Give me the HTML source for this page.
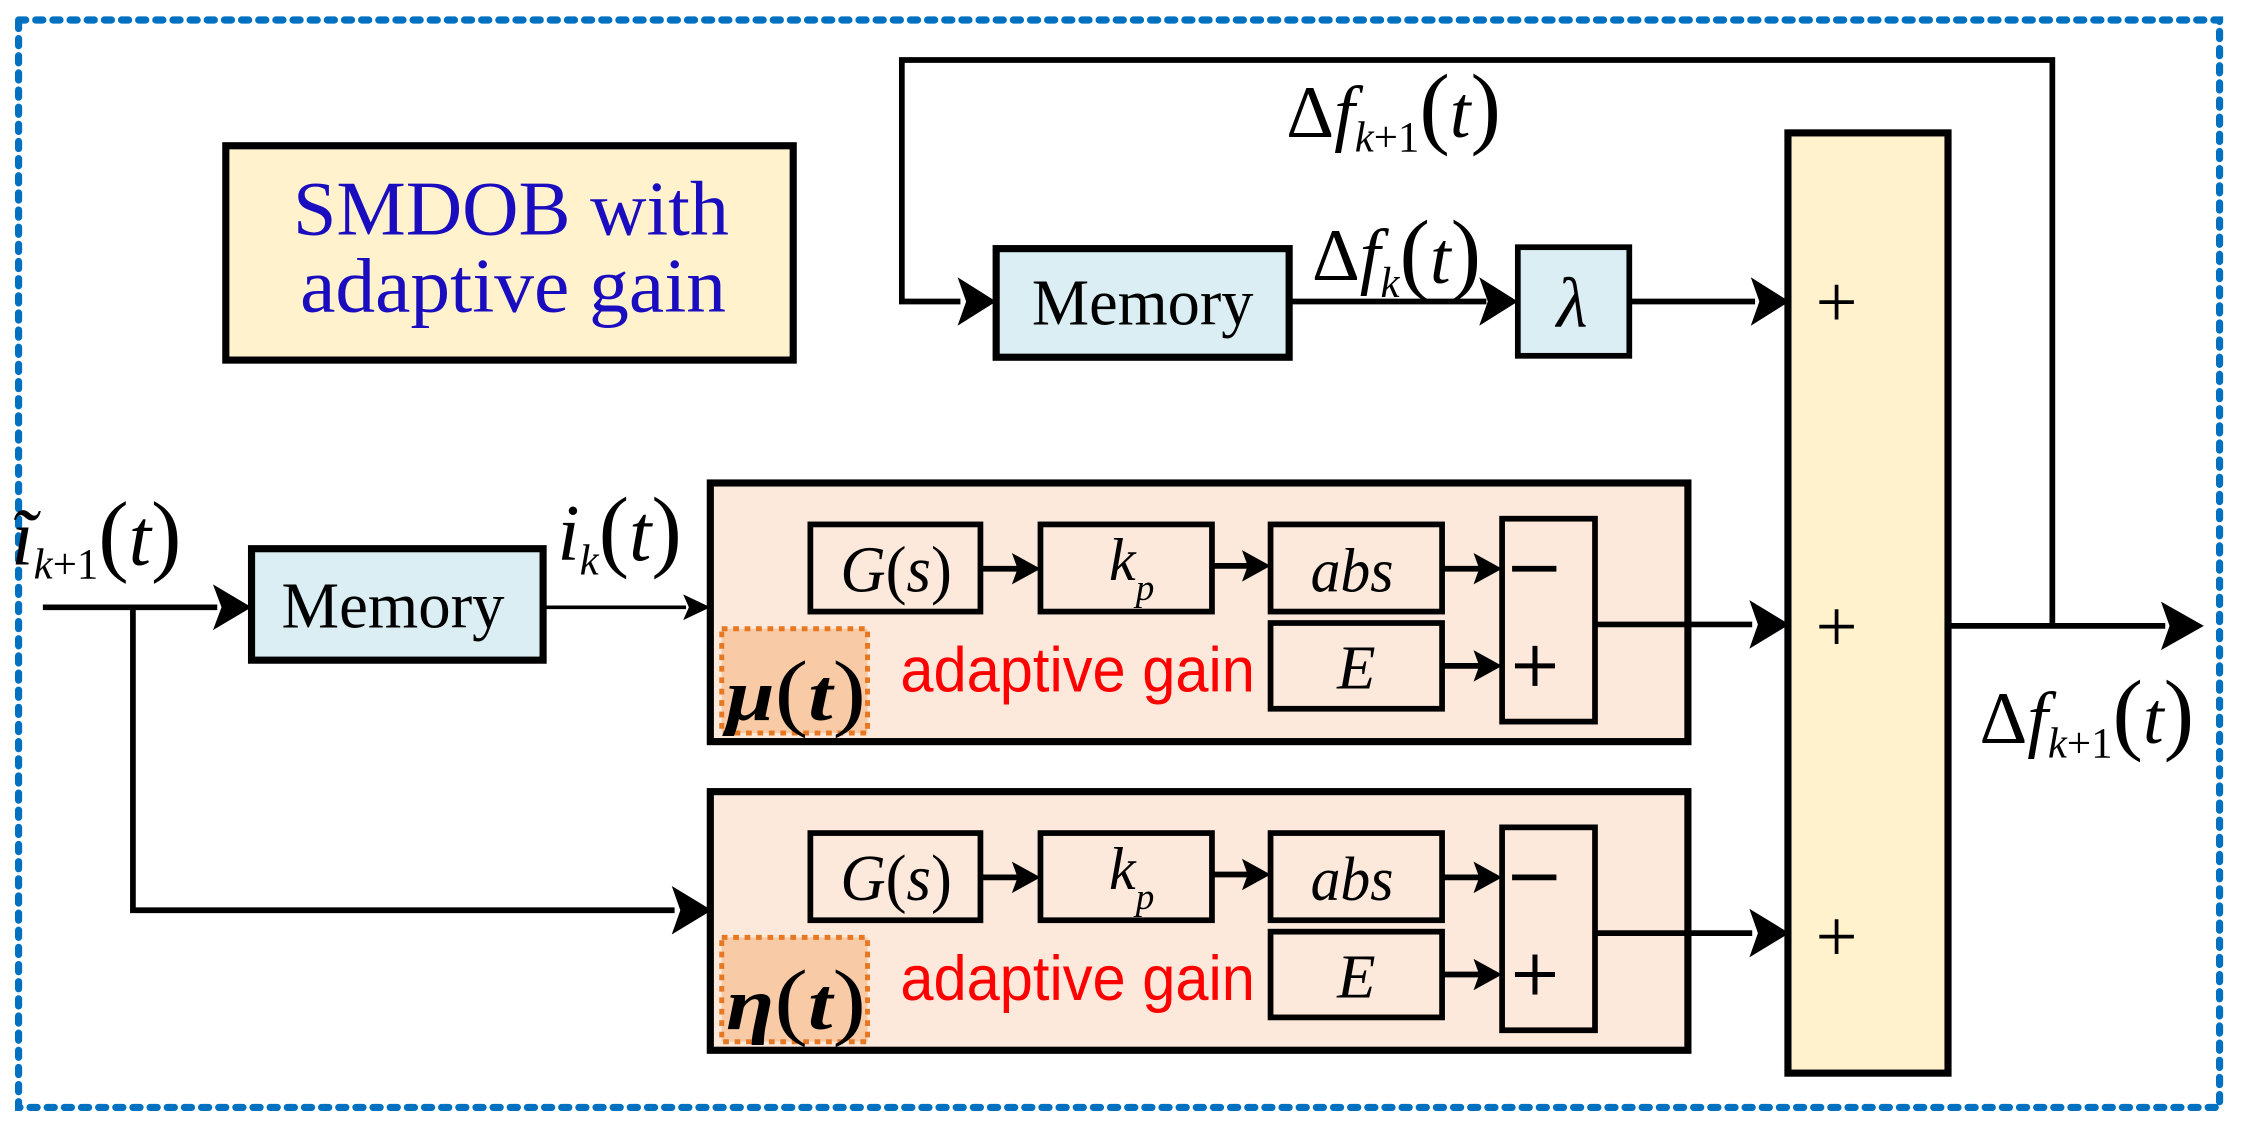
<!DOCTYPE html>
<html><head><meta charset="utf-8"><style>
html,body{margin:0;padding:0;background:#fff;width:2241px;height:1126px;overflow:hidden}
svg{display:block}
text{font-family:"Liberation Serif",serif;fill:#000}
.it{font-style:italic}
</style></head><body>
<svg width="2241" height="1126" viewBox="0 0 1568 788" preserveAspectRatio="none">
<rect x="13" y="14" width="1540" height="761" fill="none" stroke="#0070c0" stroke-width="5" stroke-dasharray="5 7" stroke-linecap="round"/>

<rect x="158" y="102" width="397" height="150" fill="#fff2cc" stroke="#000" stroke-width="5"/>
<text x="205" y="164" font-size="54" textLength="305" lengthAdjust="spacingAndGlyphs" style="fill:#1a0dbf">SMDOB with</text>
<text x="210" y="218" font-size="54" textLength="298" lengthAdjust="spacingAndGlyphs" style="fill:#1a0dbf">adaptive gain</text>

<polyline points="1436,437 1436,42 631,42 631,211 672,211" fill="none" stroke="#000" stroke-width="4"/>
<polygon points="697,211 670,194 676,211 670,228" fill="#000"/>

<rect x="697" y="174" width="205" height="76" fill="#daeef3" stroke="#000" stroke-width="5"/>
<text x="722" y="227" font-size="46" textLength="155" lengthAdjust="spacingAndGlyphs">Memory</text>
<line x1="902" y1="211" x2="1040" y2="211" stroke="#000" stroke-width="4"/>
<polygon points="1062,211 1035,194 1041,211 1035,228" fill="#000"/>
<rect x="1062" y="173" width="78" height="76" fill="#daeef3" stroke="#000" stroke-width="4"/>
<text x="1100" y="229" font-size="50" text-anchor="middle" class="it">λ</text>
<line x1="1140" y1="211" x2="1228" y2="211" stroke="#000" stroke-width="4"/>
<polygon points="1252,211 1225,194 1231,211 1225,228" fill="#000"/>

<text x="918" y="196" font-size="52">Δ<tspan class="it">f</tspan><tspan class="it" font-size="30" dy="12">k</tspan><tspan font-size="64" dy="-10">(</tspan><tspan class="it">t</tspan><tspan font-size="64">)</tspan></text>
<text x="900" y="96" font-size="52">Δ<tspan class="it">f</tspan><tspan font-size="30" dy="10"><tspan class="it">k</tspan>+1</tspan><tspan font-size="64" dy="-10">(</tspan><tspan class="it">t</tspan><tspan font-size="64">)</tspan></text>

<rect x="1251" y="93" width="112" height="658" fill="#fff2cc" stroke="#000" stroke-width="5"/>
<text x="1285" y="229" font-size="52" text-anchor="middle">+</text>
<text x="1285" y="456" font-size="52" text-anchor="middle">+</text>
<text x="1285" y="673" font-size="52" text-anchor="middle">+</text>

<line x1="1363" y1="438" x2="1515" y2="438" stroke="#000" stroke-width="4"/>
<polygon points="1542,438 1512,421 1518,438 1512,455" fill="#000"/>
<text x="1385" y="520" font-size="52">Δ<tspan class="it">f</tspan><tspan font-size="30" dy="10"><tspan class="it">k</tspan>+1</tspan><tspan font-size="64" dy="-10">(</tspan><tspan class="it">t</tspan><tspan font-size="64">)</tspan></text>

<text x="8" y="395" font-size="56"><tspan class="it">ĩ</tspan><tspan font-size="30" dy="10"><tspan class="it">k</tspan>+1</tspan><tspan font-size="64" dy="-10">(</tspan><tspan class="it">t</tspan><tspan font-size="64">)</tspan></text>
<line x1="30" y1="425" x2="152" y2="425" stroke="#000" stroke-width="4"/>
<polygon points="176,425 149,409 155,425 149,441" fill="#000"/>
<polyline points="93,425 93,637 472,637" fill="none" stroke="#000" stroke-width="4"/>
<polygon points="498,637 470,620 476,637 470,654" fill="#000"/>

<rect x="176" y="384" width="204" height="78" fill="#daeef3" stroke="#000" stroke-width="5"/>
<text x="197" y="439" font-size="46" textLength="156" lengthAdjust="spacingAndGlyphs">Memory</text>
<text x="390" y="392" font-size="56"><tspan class="it">i</tspan><tspan class="it" font-size="30" dy="10">k</tspan><tspan font-size="64" dy="-10">(</tspan><tspan class="it">t</tspan><tspan font-size="64">)</tspan></text>
<line x1="380" y1="425" x2="480" y2="425" stroke="#000" stroke-width="2.5"/>
<polygon points="497,425 478,416 482,425 478,434" fill="#000"/>

<g id="blk">
<rect x="497" y="338" width="684" height="181" fill="#fce9db" stroke="#000" stroke-width="5"/>
<rect x="567" y="367" width="119" height="61" fill="#fce9db" stroke="#000" stroke-width="4"/>
<text x="588" y="414" font-size="46" textLength="78" lengthAdjust="spacingAndGlyphs"><tspan class="it">G</tspan>(<tspan class="it">s</tspan>)</text>
<rect x="728" y="367" width="120" height="61" fill="#fce9db" stroke="#000" stroke-width="4"/>
<text x="776" y="406" font-size="42" class="it">k<tspan font-size="26" dy="14">p</tspan></text>
<rect x="889" y="367" width="120" height="61" fill="#fce9db" stroke="#000" stroke-width="4"/>
<text x="917" y="414" font-size="44" class="it" textLength="58" lengthAdjust="spacingAndGlyphs">abs</text>
<rect x="889" y="436" width="120" height="60" fill="#fce9db" stroke="#000" stroke-width="4"/>
<text x="949" y="482" font-size="44" class="it" text-anchor="middle">E</text>
<rect x="1051" y="363" width="65" height="142" fill="#fce9db" stroke="#000" stroke-width="4"/>
<line x1="1058" y1="398" x2="1089" y2="398" stroke="#000" stroke-width="4"/>
<line x1="1060" y1="466" x2="1088" y2="466" stroke="#000" stroke-width="3.5"/>
<line x1="1074" y1="452" x2="1074" y2="480" stroke="#000" stroke-width="3.5"/>
<line x1="686" y1="398" x2="712" y2="398" stroke="#000" stroke-width="4"/>
<polygon points="728,398 708,387 712,398 708,409" fill="#000"/>
<line x1="848" y1="396" x2="873" y2="396" stroke="#000" stroke-width="4"/>
<polygon points="889,396 869,385 873,396 869,407" fill="#000"/>
<line x1="1009" y1="398" x2="1035" y2="398" stroke="#000" stroke-width="4"/>
<polygon points="1051,398 1031,387 1035,398 1031,409" fill="#000"/>
<line x1="1009" y1="466" x2="1035" y2="466" stroke="#000" stroke-width="4"/>
<polygon points="1051,466 1031,455 1035,466 1031,477" fill="#000"/>
<rect x="505" y="440" width="102" height="73" fill="#f8cba6" stroke="#e87722" stroke-width="3.5" stroke-dasharray="4 4"/>
<text x="630" y="484" font-size="44" textLength="248" lengthAdjust="spacingAndGlyphs" style="fill:#ff0000;font-family:'Liberation Sans Narrow','Liberation Sans',sans-serif">adaptive gain</text>
<line x1="1116" y1="437" x2="1226" y2="437" stroke="#000" stroke-width="4"/>
<polygon points="1252,437 1224,420 1230,437 1224,454" fill="#000"/>
</g>
<use href="#blk" transform="translate(0,216)"/>
<text x="508" y="504" font-size="52" class="it" font-weight="bold" textLength="98" lengthAdjust="spacingAndGlyphs">μ<tspan font-size="60" style="font-style:normal;font-weight:normal">(</tspan>t<tspan font-size="60" style="font-style:normal;font-weight:normal">)</tspan></text>
<text x="508" y="720" font-size="52" class="it" font-weight="bold" textLength="98" lengthAdjust="spacingAndGlyphs">η<tspan font-size="60" style="font-style:normal;font-weight:normal">(</tspan>t<tspan font-size="60" style="font-style:normal;font-weight:normal">)</tspan></text>
</svg>
</body></html>
